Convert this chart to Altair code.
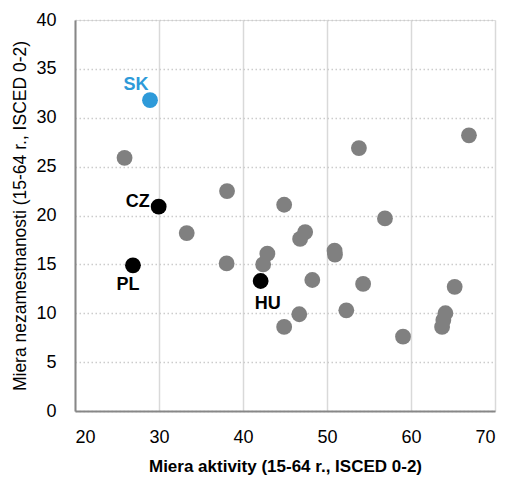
import altair as alt
import pandas as pd

# grey countries (unlabelled)
grey_x = [25.9, 38.1, 44.9, 33.3, 38.05, 42.9, 42.4, 44.9, 53.8, 66.9, 56.9, 47.4,
          46.8, 50.9, 50.95, 48.25, 54.3, 65.2, 46.7, 52.3, 59.05, 64.1, 63.85, 63.7]
grey_y = [25.9, 22.5, 21.1, 18.2, 15.1, 16.1, 15.0, 8.6, 26.9, 28.2, 19.7, 18.3,
          17.6, 16.4, 16.0, 13.4, 13.0, 12.7, 9.9, 10.3, 7.6, 10.0, 9.3, 8.6]

# highlighted countries
v4_names = ["CZ", "PL", "HU"]
v4_x = [29.96, 26.9, 42.1]
v4_y = [20.9, 14.9, 13.3]

sk_name = ["SK"]
sk_x = [28.93]
sk_y = [31.8]

grey = pd.DataFrame({"x": grey_x, "y": grey_y})
v4 = pd.DataFrame({"name": v4_names, "x": v4_x, "y": v4_y})
sk = pd.DataFrame({"name": sk_name, "x": sk_x, "y": sk_y})

FONT = "Liberation Sans Narrow, Arial Narrow, Liberation Sans, Arial, sans-serif"

xscale = alt.Scale(domain=[20, 70], nice=False, zero=False)
yscale = alt.Scale(domain=[0, 40], nice=False)

xaxis = alt.Axis(
    title="Miera aktivity (15-64 r., ISCED 0-2)",
    values=[20, 30, 40, 50, 60, 70],
    ticks=False, labelPadding=17, labelFontSize=18, labelColor="#000000",
    labelFont=FONT, titleFont=FONT, titleFontSize=17, titleFontWeight="bold",
    titleColor="#000000", titleBaseline="middle", titleY=55,
    domainColor="#878787", domainWidth=2,
    grid=True, gridColor="#d9d9d9", gridWidth=1.5,
)
yaxis = alt.Axis(
    title="Miera nezamestnanosti (15-64 r., ISCED 0-2)",
    values=[0, 5, 10, 15, 20, 25, 30, 35, 40],
    ticks=False, labelPadding=19, labelFontSize=18, labelColor="#000000",
    labelFont=FONT, titleFont=FONT, titleFontSize=17.5, titleFontWeight="normal",
    titleColor="#000000", titleBaseline="middle", titleX=-55, titleY=195.5,
    titleAngle=-90, titleAlign="center",
    domainColor="#878787", domainWidth=2,
    grid=True, gridColor="#cccccc", gridWidth=1.5, gridDash=[1.5, 2.5],
)

grey_pts = alt.Chart(grey).mark_circle(size=250, opacity=1, color="#808080").encode(
    x=alt.X("x:Q", scale=xscale, axis=xaxis),
    y=alt.Y("y:Q", scale=yscale, axis=yaxis),
)
v4_pts = alt.Chart(v4).mark_circle(size=250, opacity=1, color="#000000").encode(
    x=alt.X("x:Q", scale=xscale), y=alt.Y("y:Q", scale=yscale))
sk_pts = alt.Chart(sk).mark_circle(size=250, opacity=1, color="#2e9ad9").encode(
    x=alt.X("x:Q", scale=xscale), y=alt.Y("y:Q", scale=yscale))

def label(df, name, dx, dy, color):
    return alt.Chart(df).transform_filter(alt.datum.name == name).mark_text(
        font=FONT, fontSize=18, fontWeight="bold", color=color,
        dx=dx, dy=dy, align="center", baseline="middle",
    ).encode(x=alt.X("x:Q", scale=xscale), y=alt.Y("y:Q", scale=yscale), text="name:N")

labels = [
    label(sk, "SK", -14, -15, "#2e9ad9"),
    label(v4, "CZ", -21, -5, "#000000"),
    label(v4, "PL", -5, 20, "#000000"),
    label(v4, "HU", 7, 23, "#000000"),
]

chart = alt.layer(grey_pts, v4_pts, sk_pts, *labels).properties(
    width=420, height=391,
    autosize=alt.AutoSizeParams(type="none"),
    padding={"left": 67, "top": 12, "right": 29, "bottom": 70},
).configure_view(stroke=None).configure(background="#ffffff")

chart.save("out.html", embed_options={"renderer": "svg", "actions": False})
